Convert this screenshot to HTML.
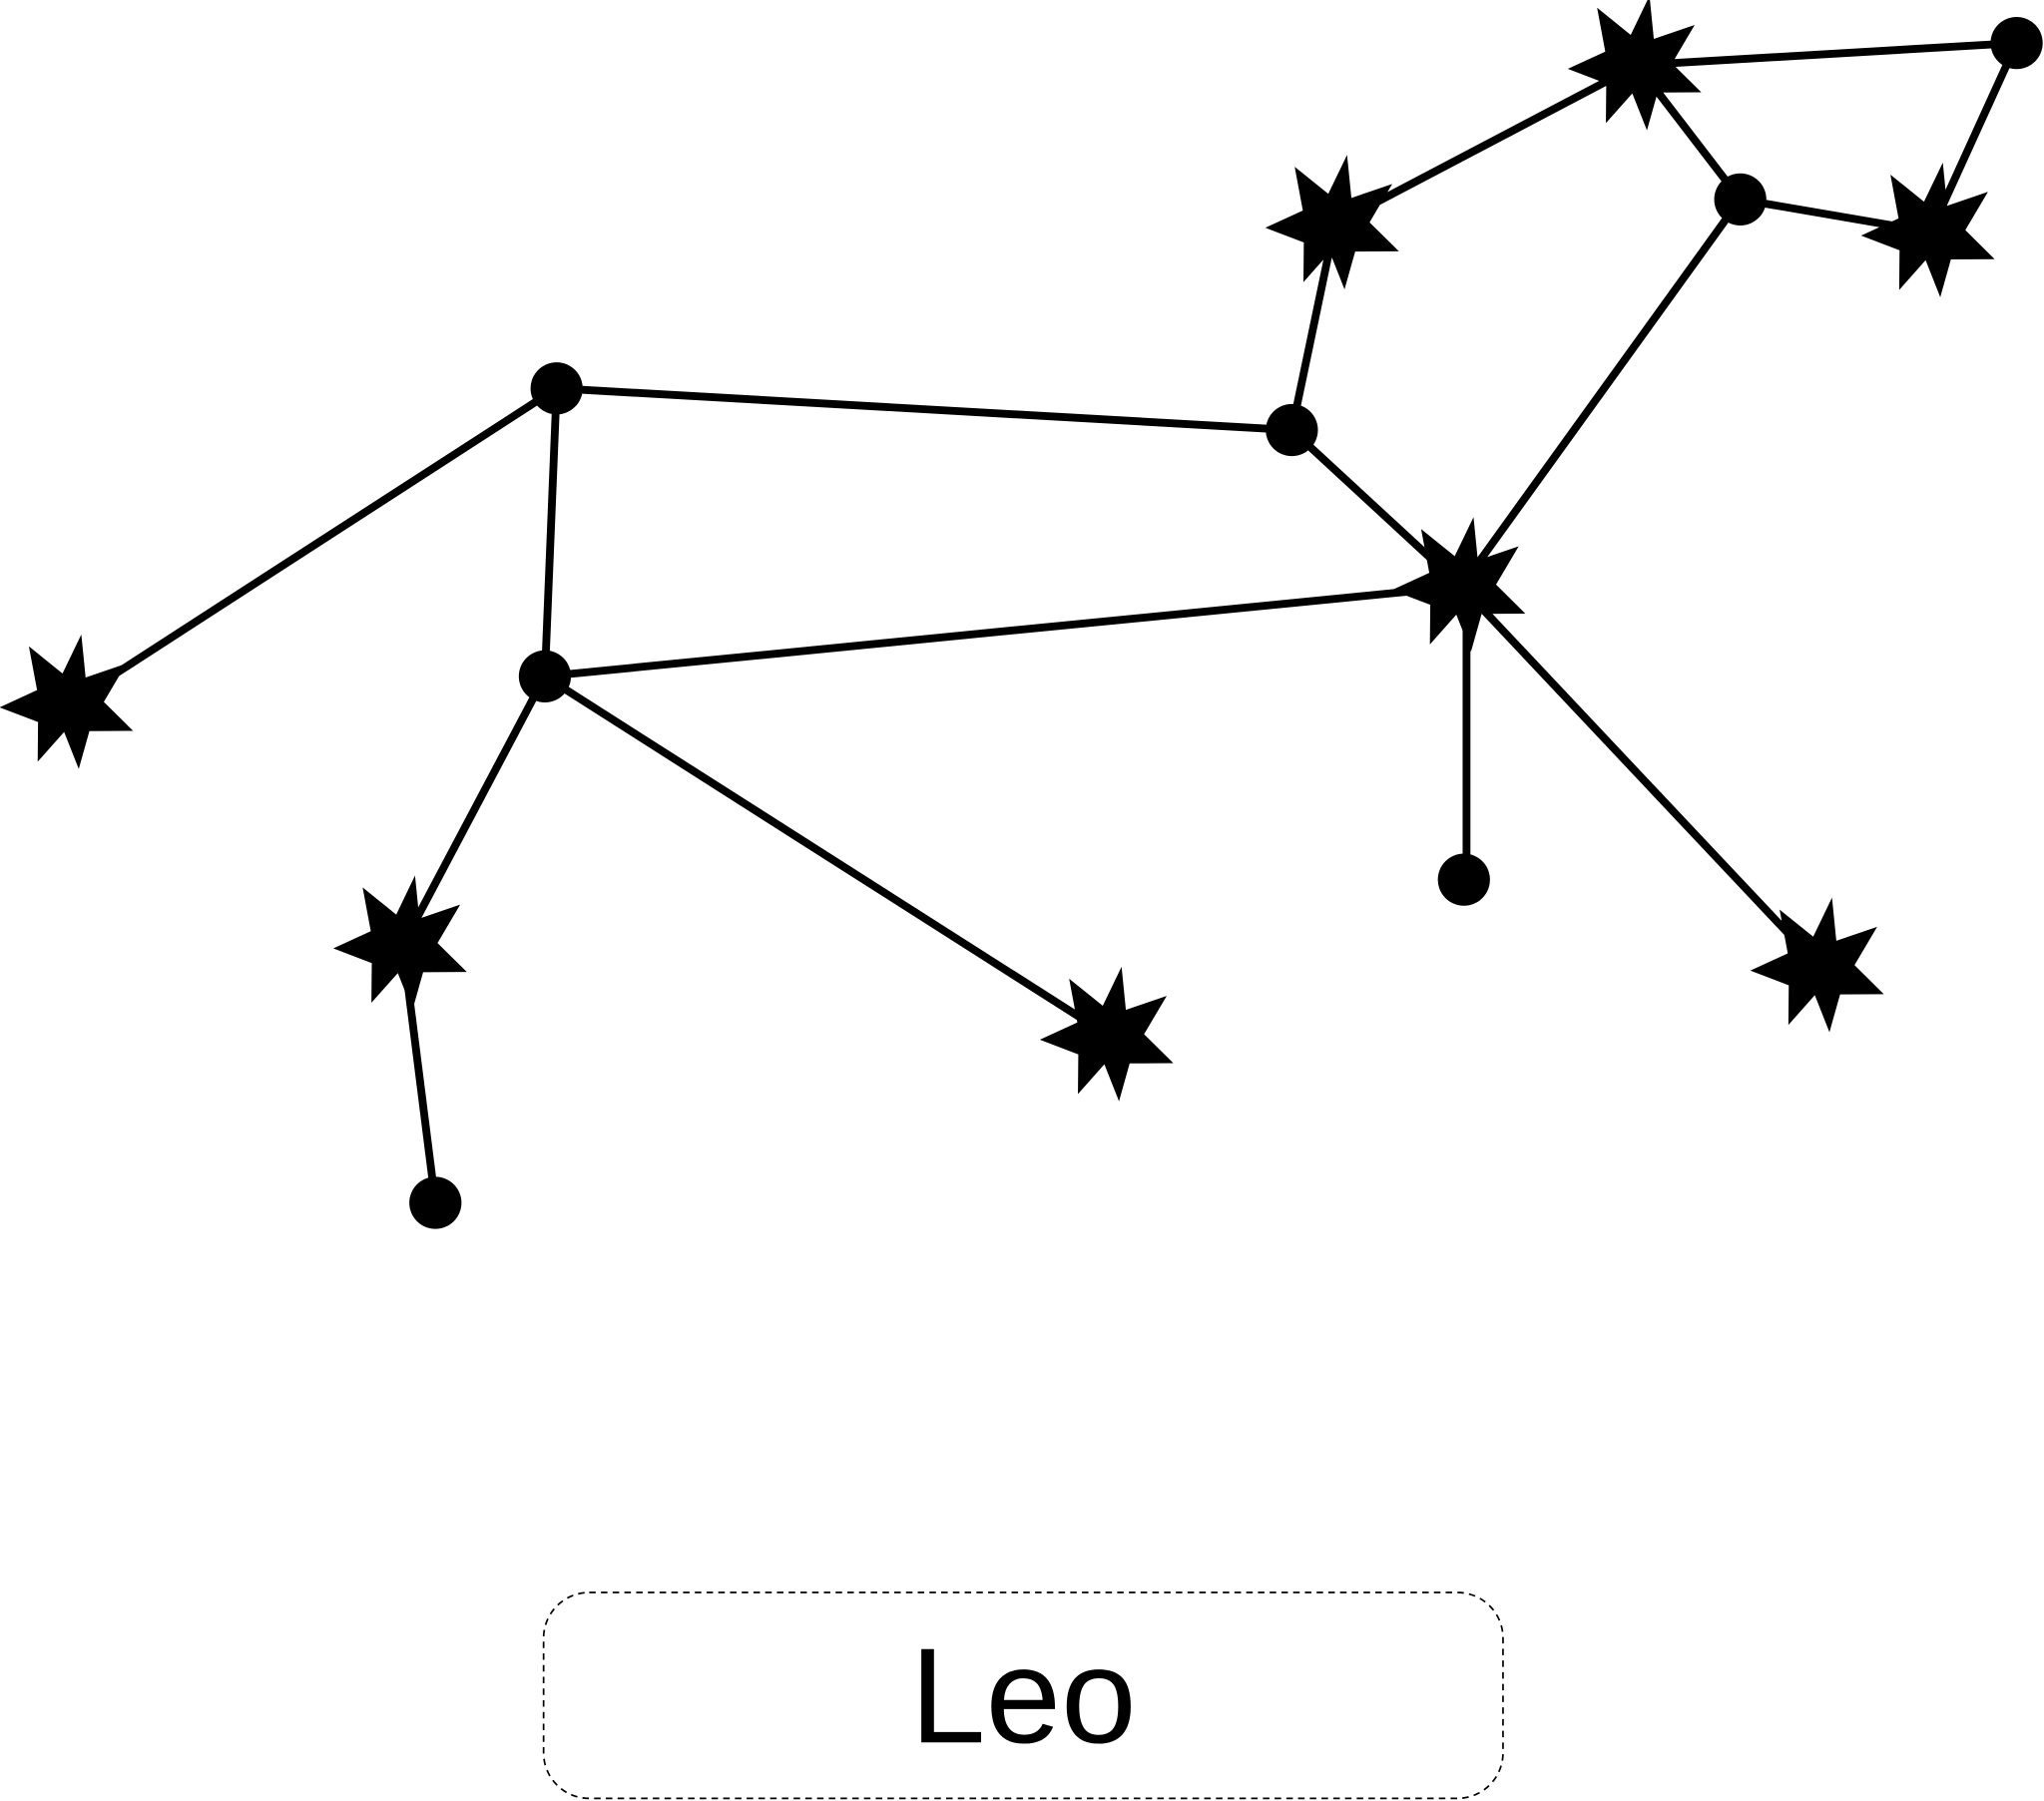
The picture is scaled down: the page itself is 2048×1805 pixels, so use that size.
<!DOCTYPE html>
<html><head><meta charset="utf-8"><style>html,body{margin:0;padding:0;background:#fff}svg{display:block}</style></head>
<body>
<svg width="2048" height="1805" viewBox="0 0 1568 1382" preserveAspectRatio="none" xmlns="http://www.w3.org/2000/svg">
<defs>
<polygon id="st" points="0,-54 9,-22 38,-38 26,-6 52,12 19,18 16,48 0,22 -16,48 -21,18 -52,12 -26,-6 -38,-38 -9,-22" transform="rotate(10)"/>
</defs>
<g stroke="#000" stroke-width="6" fill="none">
<line x1="53" y1="540" x2="427" y2="298"/>
<line x1="427" y1="298" x2="991" y2="330"/>
<line x1="427" y1="298" x2="418" y2="519"/>
<line x1="991" y1="330" x2="1024" y2="172"/>
<line x1="1024" y1="172" x2="1256" y2="50"/>
<line x1="1256" y1="50" x2="1547" y2="33"/>
<line x1="1256" y1="50" x2="1335" y2="153"/>
<line x1="1335" y1="153" x2="1481" y2="178"/>
<line x1="1547" y1="33" x2="1481" y2="178"/>
<line x1="1335" y1="153" x2="1121" y2="450"/>
<line x1="991" y1="330" x2="1121" y2="450"/>
<line x1="1121" y1="450" x2="1396" y2="742"/>
<line x1="418" y1="519" x2="1121" y2="450"/>
<line x1="1125" y1="450" x2="1125" y2="675"/>
<line x1="418" y1="519" x2="309" y2="725"/>
<line x1="309" y1="725" x2="334" y2="923"/>
<line x1="418" y1="519" x2="851" y2="795"/>
</g>
<g fill="#000">
<circle cx="427" cy="298" r="20"/><circle cx="991" cy="330" r="20"/><circle cx="418" cy="519" r="20"/>
<circle cx="1335" cy="153" r="20"/><circle cx="1547" cy="33" r="20"/><circle cx="1123" cy="675" r="20"/><circle cx="334" cy="923" r="20"/>
<use href="#st" x="1256" y="50"/><use href="#st" x="1024" y="172"/><use href="#st" x="1481" y="178"/>
<use href="#st" x="1121" y="450"/><use href="#st" x="53" y="540"/><use href="#st" x="309" y="725"/>
<use href="#st" x="851" y="795"/><use href="#st" x="1396" y="742"/>
</g>
<rect x="417" y="1222" width="736" height="158" rx="35" fill="none" stroke="#000" stroke-width="1.3" stroke-dasharray="5,4"/>
<text x="785" y="1337" text-anchor="middle" font-family="Liberation Sans, sans-serif" font-size="104" fill="#000">Leo</text>
</svg>
</body></html>
